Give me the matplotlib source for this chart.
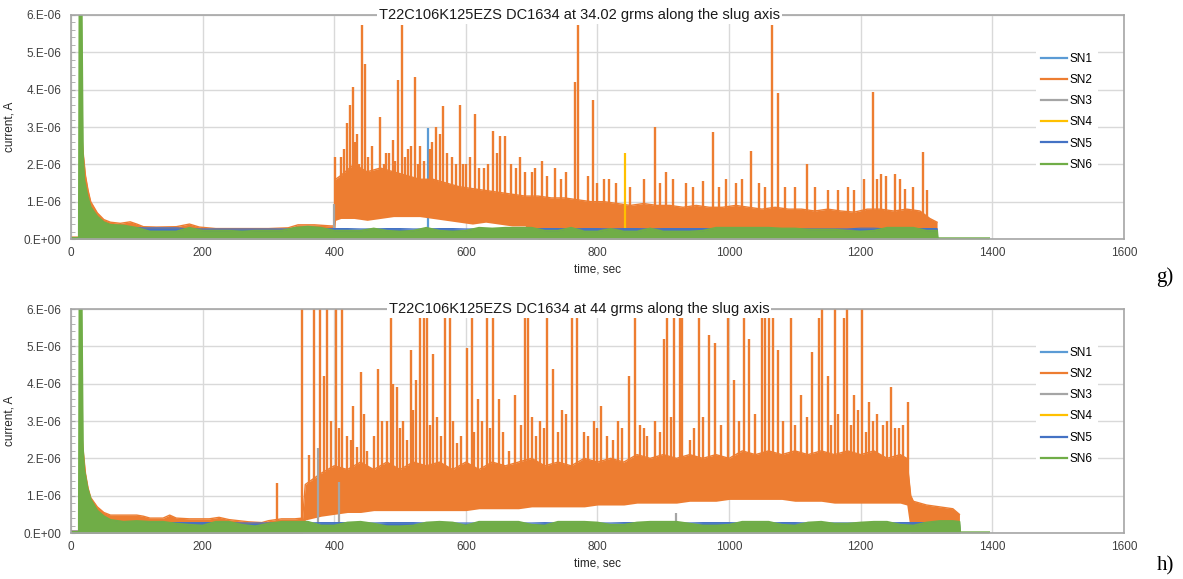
import numpy as np
import matplotlib.pyplot as plt
from matplotlib.lines import Line2D
from matplotlib.ticker import MultipleLocator, FuncFormatter

plt.rcParams['font.family'] = ['Liberation Sans', 'DejaVu Sans']

# currents are in units of 1e-6 A, time in sec
series_names = ['SN1', 'SN2', 'SN3', 'SN4', 'SN5', 'SN6']
series_colors = ['#5B9BD5', '#ED7D31', '#A5A5A5', '#FFC000', '#4472C4', '#70AD47']

title_g = 'T22C106K125EZS DC1634 at 34.02 grms along the slug axis'
title_h = 'T22C106K125EZS DC1634 at 44 grms along the slug axis'

# ---------------- panel g) ----------------
g_sn2_t = [0, 12, 15, 18, 22, 26, 30, 40, 50, 60, 75, 90, 100, 110, 130, 160, 180, 195, 220, 260,
           300, 330, 345, 370, 395, 400,
           402, 410, 430, 450, 470, 490, 510, 530, 550, 570, 590, 610, 630, 650, 670, 690, 710, 730,
           750, 770, 790, 810, 830, 850, 870, 890, 910, 930, 950, 970, 990, 1010, 1030, 1050, 1070,
           1090, 1110, 1130, 1150, 1170, 1190, 1210, 1230, 1250, 1270, 1290, 1305, 1316]
g_sn2_hi = [0.05, 0.05, 3.2, 2.4, 1.7, 1.3, 1.0, 0.7, 0.52, 0.45, 0.42, 0.46, 0.40, 0.33, 0.32, 0.33,
            0.40, 0.32, 0.28, 0.28, 0.28, 0.30, 0.38, 0.38, 0.35, 0.35,
            1.6, 1.7, 2.0, 1.8, 1.9, 1.8, 1.7, 1.6, 1.6, 1.5, 1.4, 1.35, 1.3, 1.25, 1.2, 1.15, 1.15, 1.1,
            1.1, 1.05, 1.0, 1.0, 0.95, 0.9, 0.95, 0.9, 0.9, 0.85, 0.9, 0.85, 0.85, 0.9, 0.85, 0.8, 0.85,
            0.8, 0.8, 0.75, 0.8, 0.75, 0.72, 0.8, 0.8, 0.75, 0.8, 0.75, 0.55, 0.45]
g_sn2_lo = [0, 0, 0, 0, 0, 0, 0, 0, 0, 0, 0, 0, 0, 0, 0, 0, 0, 0, 0, 0,
            0, 0, 0, 0, 0, 0,
            0.5, 0.55, 0.55, 0.5, 0.55, 0.6, 0.6, 0.6, 0.55, 0.5, 0.45, 0.4, 0.45, 0.4, 0.35, 0.35, 0, 0,
            0, 0, 0, 0, 0, 0, 0, 0, 0, 0, 0, 0, 0, 0, 0, 0, 0,
            0, 0, 0, 0, 0, 0, 0, 0, 0, 0, 0, 0, 0]
g_sn2_spk_t = [401, 411, 415, 419, 424, 429, 432, 435, 438, 442, 447, 452, 458, 470, 475, 478, 483,
               489, 493, 497, 503, 508, 512, 517, 523, 527, 531, 537, 545, 549, 554, 560, 566, 572,
               579, 585, 591, 596, 600, 606, 614, 620, 628, 634, 642, 647, 652, 660, 668, 676, 682,
               690, 700, 705, 715, 724, 735, 745, 752, 766, 770, 785, 793, 800, 810, 818, 828, 850,
               870, 887, 895, 904, 915, 935, 945, 960, 975, 985, 995, 1010, 1020, 1034, 1045, 1055,
               1065, 1074, 1085, 1100, 1118, 1130, 1150, 1165, 1180, 1190, 1205, 1219, 1225, 1231,
               1238, 1252, 1260, 1268, 1280, 1295, 1300]
g_sn2_spk_v = [2.2, 2.2, 2.4, 3.1, 3.6, 4.07, 2.6, 2.8, 2.0, 5.73, 4.7, 2.2, 2.5, 3.27, 2.0, 2.3, 2.3,
               2.65, 2.1, 4.26, 5.73, 2.2, 2.4, 2.5, 4.35, 2.0, 2.5, 2.1, 2.4, 2.6, 3.0, 2.8, 3.55, 2.3,
               2.2, 2.0, 3.6, 2.0, 2.0, 2.2, 3.35, 1.9, 1.9, 2.0, 2.9, 2.3, 2.75, 2.75, 2.0, 1.9, 2.2,
               1.8, 1.8, 1.9, 2.1, 1.7, 1.9, 1.6, 1.8, 4.2, 5.73, 1.7, 3.73, 1.5, 1.6, 1.6, 1.5, 1.4,
               1.6, 3.0, 1.5, 1.8, 1.6, 1.5, 1.4, 1.55, 2.87, 1.4, 1.6, 1.5, 1.6, 2.36, 1.5, 1.4,
               5.73, 3.9, 1.4, 1.4, 2.0, 1.4, 1.3, 1.3, 1.4, 1.3, 1.6, 3.95, 1.6, 1.75,
               1.7, 1.75, 1.6, 1.35, 1.4, 2.33, 1.3]
g_base_t = [0, 12, 13, 16, 18, 20, 25, 30, 40, 50, 60, 80,
            100, 120, 140, 160, 180, 200, 220, 240, 260, 280, 300, 320, 340, 360, 380, 400, 420, 440,
            460, 480, 500, 520, 540, 560, 580, 600, 620, 640, 660, 680, 700, 720, 740, 760, 780, 800,
            820, 840, 860, 880, 900, 920, 940, 960, 980, 1000, 1020, 1040, 1060, 1080, 1100, 1120,
            1140, 1160, 1180, 1200, 1220, 1240, 1260, 1280, 1300,
            1316, 1317, 1395]
g_sn5_hi = [0.03, 0.03, 0.5, 3.0, 2.0, 1.3, 0.9, 0.7, 0.5, 0.4, 0.33, 0.3,
            0.3, 0.3, 0.3, 0.3, 0.27, 0.27, 0.27, 0.27, 0.27, 0.27,
            0.27, 0.27, 0.27, 0.27, 0.27, 0.28, 0.28, 0.27, 0.27, 0.28,
            0.28, 0.27, 0.27, 0.28, 0.28, 0.27, 0.27, 0.27, 0.27, 0.27,
            0.27, 0.28, 0.28, 0.27, 0.28, 0.28, 0.27, 0.28, 0.28, 0.27,
            0.28, 0.28, 0.28, 0.28, 0.27, 0.27, 0.27, 0.27, 0.27, 0.27,
            0.27, 0.27, 0.27, 0.27, 0.27, 0.29, 0.29, 0.27, 0.27, 0.27,
            0.28,
            0.28, 0, 0]
g_sn6_hi = [0.03, 0.03, 6.5, 6.5, 2.3, 1.6, 1.15, 0.85, 0.6, 0.45, 0.38, 0.36,
            0.3, 0.2, 0.2, 0.2, 0.3, 0.22, 0.22, 0.22, 0.2, 0.22,
            0.22, 0.22, 0.3, 0.33, 0.3, 0.22, 0.22, 0.22, 0.28, 0.22,
            0.2, 0.22, 0.3, 0.22, 0.2, 0.22, 0.3, 0.28, 0.3, 0.3,
            0.3, 0.22, 0.22, 0.3, 0.2, 0.2, 0.27, 0.2, 0.2, 0.28,
            0.2, 0.2, 0.2, 0.22, 0.3, 0.3, 0.3, 0.3, 0.3, 0.28,
            0.28, 0.25, 0.25, 0.25, 0.22, 0.2, 0.22, 0.3, 0.3, 0.3,
            0.22,
            0.22, 0.02, 0.02]
g_sn1_spk_t = [542]
g_sn1_spk_v = [2.97]
g_sn3_spk_t = [399]
g_sn3_spk_v = [0.95]
g_sn4_spk_t = [842]
g_sn4_spk_v = [2.3]

# ---------------- panel h) ----------------
h_sn2_t = [0, 12, 15, 18, 22, 26, 30, 40, 50, 60, 80, 100, 110, 120, 140, 150, 160, 180, 210, 225,
           240, 270, 290, 300, 320, 340, 352,
           356, 380, 400, 420, 440, 460, 480, 500, 520, 540, 560, 580, 600, 620, 640, 660, 680, 700,
           720, 740, 760, 780, 800, 820, 840, 860, 880, 900, 920, 940, 960, 980, 1000, 1020, 1040,
           1060, 1080, 1100, 1120, 1140, 1160, 1180, 1200, 1220, 1240, 1260,
           1270, 1276, 1280, 1300, 1320, 1340, 1350]
h_sn2_hi = [0.05, 0.05, 3.0, 2.3, 1.6, 1.2, 0.95, 0.7, 0.55, 0.48, 0.48, 0.48, 0.45, 0.40, 0.40, 0.48,
            0.40, 0.38, 0.38, 0.42, 0.36, 0.30, 0.28, 0.33, 0.38, 0.38, 0.40,
            1.3, 1.6, 1.8, 1.7, 1.9, 1.7, 1.9, 1.7, 1.9, 1.8, 1.9, 1.7, 1.9, 1.7, 1.9, 1.8, 1.9, 2.0,
            1.8, 1.9, 1.8, 2.0, 1.9, 2.0, 1.9, 2.1, 2.0, 2.1, 2.0, 2.1, 2.0, 2.1, 2.0, 2.2, 2.1,
            2.2, 2.1, 2.2, 2.1, 2.2, 2.1, 2.2, 2.1, 2.2, 2.0, 2.1,
            2.0, 1.0, 0.85, 0.75, 0.7, 0.65, 0.5]
h_sn2_lo = [0, 0, 0, 0, 0, 0, 0, 0, 0, 0, 0, 0, 0, 0, 0, 0, 0, 0, 0, 0,
            0, 0, 0, 0, 0, 0, 0,
            0.35, 0.45, 0.5, 0.55, 0.55, 0.6, 0.6, 0.6, 0.6, 0.6, 0.6, 0.6, 0.6, 0.65, 0.65, 0.65,
            0.65, 0.7, 0.7, 0.7, 0.7, 0.7, 0.75, 0.75, 0.75, 0.8, 0.8, 0.8, 0.8, 0.85, 0.85, 0.85,
            0.9, 0.9, 0.9, 0.9, 0.9, 0.85, 0.85, 0.85, 0.8, 0.8, 0.8, 0.8, 0.8, 0.8,
            0.75, 0, 0, 0, 0, 0, 0]
h_sn2_spk_t = [313, 351, 362, 369, 379, 384, 389, 395, 402, 408, 412, 420, 425, 429, 435, 440, 445,
               450, 460, 467, 472, 480, 487, 490, 496, 500, 505, 510, 516, 520, 525, 531, 536, 541,
               545, 550, 556, 562, 568, 576, 580, 586, 593, 601, 609, 612, 619, 625, 632, 637, 642,
               650, 656, 665, 675, 684, 690, 695, 700, 706, 713, 718, 723, 733, 740, 746, 752, 761,
               769, 779, 785, 794, 800, 806, 815, 823, 831, 838, 848, 857, 865, 870, 876, 888, 895,
               901, 906, 912, 916, 925, 929, 940, 946, 954, 960, 970, 978, 987, 999, 1008, 1015,
               1022, 1030, 1040, 1050, 1054, 1061, 1067, 1075, 1082, 1094, 1100, 1110, 1118, 1126,
               1136, 1141, 1150, 1155, 1161, 1166, 1174, 1179, 1185, 1190, 1196, 1202, 1208, 1212,
               1218, 1224, 1234, 1240, 1246, 1252, 1258, 1265, 1272]
h_sn2_spk_v = [1.34, 6.5, 2.1, 6.5, 6.5, 4.2, 6.5, 3.0, 6.5, 2.8, 6.5, 2.6, 2.5, 3.4, 2.3, 4.3, 3.2,
               2.2, 2.6, 4.4, 3.0, 3.0, 5.75, 4.0, 3.9, 2.8, 3.0, 2.5, 4.9, 3.3, 4.1, 5.8, 5.8, 5.75,
               2.9, 4.8, 3.1, 2.6, 5.8, 5.75, 3.0, 2.4, 2.6, 4.96, 5.75, 2.7, 3.6, 3.0, 5.75, 2.8, 5.75,
               3.6, 2.7, 2.2, 3.7, 2.9, 5.75, 5.75, 3.1, 2.6, 3.0, 2.8, 5.75, 4.4, 2.7, 3.3, 3.2, 5.75,
               5.75, 2.7, 2.6, 3.0, 2.8, 3.4, 2.6, 2.5, 3.0, 2.8, 4.2, 5.76, 2.9, 2.8, 2.6, 3.0, 2.7,
               5.2, 5.76, 3.1, 5.76, 5.76, 5.76, 2.5, 2.8, 5.76, 3.1, 5.3, 5.1, 2.9, 5.76, 4.1, 3.0,
               5.76, 5.2, 3.2, 5.76, 5.76, 5.76, 5.76, 4.9, 3.0, 5.76, 2.9, 3.7, 3.1, 4.85,
               5.76, 6.5, 4.2, 2.9, 6.5, 3.2, 5.76, 6.5, 2.9, 3.7, 3.3, 6.5, 2.7, 3.5,
               3.0, 3.2, 2.9, 3.0, 3.9, 2.8, 2.8, 2.9, 3.5]
h_base_t = [0, 12, 13, 16, 18, 20, 25, 30, 40, 50, 60, 80,
            100, 120, 140, 160, 180, 200, 220, 240, 260, 280, 300, 320, 340, 360, 380, 400, 420, 440,
            460, 480, 500, 520, 540, 560, 580, 600, 620, 640, 660, 680, 700, 720, 740, 760, 780, 800,
            820, 840, 860, 880, 900, 920, 940, 960, 980, 1000, 1020, 1040, 1060, 1080, 1100, 1120,
            1140, 1160, 1180, 1200, 1220, 1240, 1260, 1280, 1300, 1320, 1340,
            1350, 1351, 1395]
h_sn5_hi = [0.05, 0.05, 0.5, 3.0, 2.0, 1.3, 0.9, 0.7, 0.5, 0.4, 0.33, 0.3,
            0.28, 0.28, 0.28, 0.28, 0.28, 0.28, 0.28, 0.28, 0.27, 0.27,
            0.27, 0.27, 0.27, 0.27, 0.28, 0.28, 0.28, 0.27, 0.27, 0.28,
            0.28, 0.28, 0.27, 0.27, 0.27, 0.27, 0.27, 0.27, 0.27, 0.27,
            0.27, 0.28, 0.27, 0.27, 0.27, 0.27, 0.27, 0.28, 0.28, 0.27,
            0.27, 0.27, 0.27, 0.28, 0.28, 0.28, 0.27, 0.27, 0.27, 0.28,
            0.28, 0.27, 0.27, 0.27, 0.27, 0.27, 0.27, 0.27, 0.28, 0.28,
            0.28, 0.28, 0.28,
            0.28, 0, 0]
h_sn6_hi = [0.03, 0.03, 6.5, 6.5, 2.3, 1.7, 1.2, 0.9, 0.6, 0.45, 0.35, 0.3,
            0.32, 0.3, 0.3, 0.25, 0.22, 0.2, 0.3, 0.3, 0.22, 0.18,
            0.25, 0.3, 0.3, 0.3, 0.2, 0.2, 0.28, 0.3, 0.25, 0.18,
            0.18, 0.2, 0.28, 0.3, 0.28, 0.2, 0.3, 0.3, 0.3, 0.3,
            0.22, 0.2, 0.3, 0.3, 0.3, 0.28, 0.22, 0.22, 0.28, 0.3,
            0.3, 0.3, 0.25, 0.2, 0.2, 0.22, 0.3, 0.3, 0.3, 0.22,
            0.2, 0.28, 0.3, 0.25, 0.25, 0.28, 0.3, 0.3, 0.22, 0.2,
            0.28, 0.32, 0.32,
            0.3, 0.02, 0.02]
h_sn1_spk_t = []
h_sn1_spk_v = []
h_sn3_spk_t = [376, 407, 920]
h_sn3_spk_v = [2.27, 1.38, 0.53]
h_sn4_spk_t = []
h_sn4_spk_v = []


def draw_panel(ax, title, sn2_t, sn2_lo, sn2_hi, sn2_spk_t, sn2_spk_v, base_t, sn5_hi, sn6_hi,
               sn1_spk, sn3_spk, sn4_spk):
    c = series_colors
    # SN1
    ax.vlines(sn1_spk[0], 0, sn1_spk[1], color=c[0], lw=1.6, zorder=2.0)
    # SN2 band + spikes (spikes rise out of the band)
    ax.fill_between(sn2_t, sn2_lo, sn2_hi, color=c[1], lw=0, zorder=2.1)
    ax.plot(sn2_t, sn2_hi, color=c[1], lw=1.0, zorder=2.1)
    spk_base = np.interp(sn2_spk_t, sn2_t, sn2_lo) + 0.3
    ax.vlines(sn2_spk_t, spk_base, sn2_spk_v, color=c[1], lw=1.7, zorder=2.1)
    # SN3, SN4 spikes
    ax.vlines(sn3_spk[0], 0, sn3_spk[1], color=c[2], lw=1.6, zorder=2.2)
    ax.vlines(sn4_spk[0], 0, sn4_spk[1], color=c[3], lw=1.6, zorder=2.3)
    # SN5 and SN6 bands
    ax.fill_between(base_t, 0, sn5_hi, color=c[4], lw=0, zorder=2.4)
    ax.plot(base_t, sn5_hi, color=c[4], lw=0.8, zorder=2.4)
    ax.fill_between(base_t, 0, sn6_hi, color=c[5], lw=0, zorder=2.5)
    ax.plot(base_t, sn6_hi, color=c[5], lw=1.4, zorder=2.5)

    ax.set_xlim(0, 1600)
    ax.set_ylim(0, 6)
    ax.xaxis.set_major_locator(MultipleLocator(200))
    ax.yaxis.set_major_locator(MultipleLocator(1))
    ax.yaxis.set_minor_locator(MultipleLocator(0.2))
    ax.yaxis.set_major_formatter(FuncFormatter(
        lambda v, p: '0.E+00' if v == 0 else '%d.E-06' % round(v)))
    ax.tick_params(axis='x', length=0, pad=6, labelsize=8.5, colors='#404040')
    ax.tick_params(axis='y', which='both', direction='in', length=3, color='#a6a6a6',
                   pad=7, labelsize=8.5, labelcolor='#404040')
    ax.grid(True, color='#d9d9d9', lw=1.0)
    ax.set_axisbelow(True)
    for s in ax.spines.values():
        s.set_color('#a6a6a6')
        s.set_linewidth(1.2)
        s.set_zorder(3)
    ax.set_xlabel('time, sec', fontsize=8.5, color='#262626', labelpad=3)
    ax.set_ylabel('current, A', fontsize=8.5, color='#262626', labelpad=6)
    ax.text(0.4825, 1.0, title, transform=ax.transAxes, ha='center', va='center',
            fontsize=10.5, color='#1a1a1a', zorder=10,
            bbox=dict(fc='white', ec='none', pad=1.5))

    handles = [Line2D([], [], color=col, lw=1.6) for col in series_colors]
    leg = ax.legend(handles, series_names, loc='upper left', bbox_to_anchor=(0.916, 0.855),
                    frameon=True, fancybox=False, framealpha=1, edgecolor='none',
                    fontsize=8.5, handlelength=2.2, handletextpad=0.25, labelspacing=0.78,
                    borderpad=0.45, borderaxespad=0)
    leg.set_zorder(11)


fig = plt.figure(figsize=(11.83, 5.79), dpi=100)
ax_g = fig.add_axes([0.0600, 0.5872, 0.8901, 0.3869])
ax_h = fig.add_axes([0.0600, 0.0794, 0.8901, 0.3869])

draw_panel(ax_g, title_g, g_sn2_t, g_sn2_lo, g_sn2_hi, g_sn2_spk_t, g_sn2_spk_v,
           g_base_t, g_sn5_hi, g_sn6_hi,
           (g_sn1_spk_t, g_sn1_spk_v), (g_sn3_spk_t, g_sn3_spk_v), (g_sn4_spk_t, g_sn4_spk_v))
draw_panel(ax_h, title_h, h_sn2_t, h_sn2_lo, h_sn2_hi, h_sn2_spk_t, h_sn2_spk_v,
           h_base_t, h_sn5_hi, h_sn6_hi,
           (h_sn1_spk_t, h_sn1_spk_v), (h_sn3_spk_t, h_sn3_spk_v), (h_sn4_spk_t, h_sn4_spk_v))

fig.text(0.9775, 1 - 277 / 579, 'g)', family=['Liberation Serif', 'DejaVu Serif'],
         fontsize=15, va='center', ha='left')
fig.text(0.9775, 1 - 566 / 579, 'h)', family=['Liberation Serif', 'DejaVu Serif'],
         fontsize=15, va='center', ha='left')

fig.savefig('out.png', dpi=100)
